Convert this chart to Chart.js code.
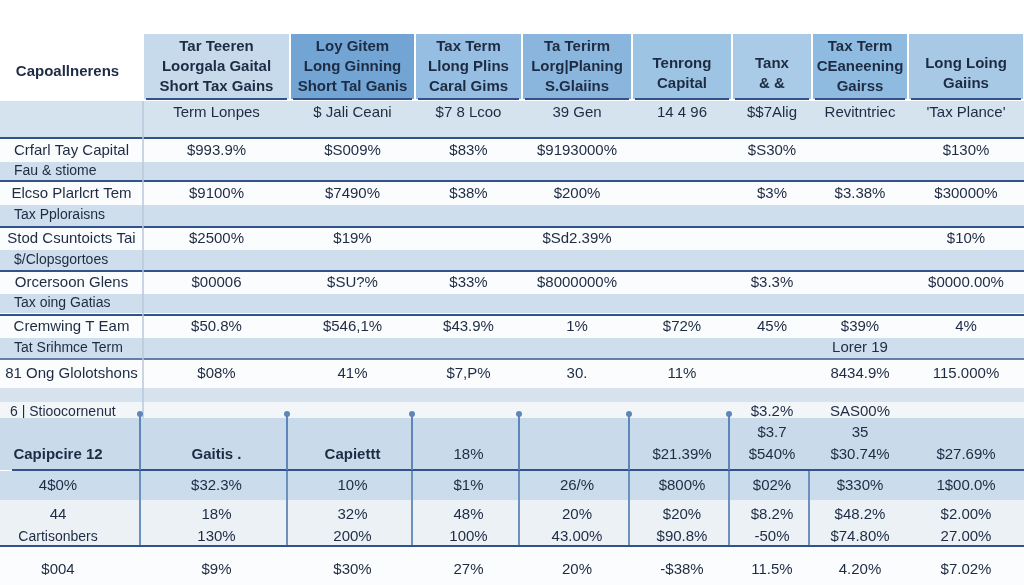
<!DOCTYPE html>
<html>
<head>
<meta charset="utf-8">
<script src="https://cdn.jsdelivr.net/npm/chart.js@4/dist/chart.umd.min.js"></script>
<style>
  html, body { margin: 0; background: #ffffff; }
  canvas { display: block; }
</style>
</head>
<body>
<canvas id="tax-table" width="1024" height="585"></canvas>
<script>
// ---- table data ----
const cornerLabel = 'Capoallnerens';
const headers = [
    ['Tar Teeren', 'Loorgala Gaital', 'Short Tax Gains'],
    ['Loy Gitem', 'Long Ginning', 'Short Tal Ganis'],
    ['Tax Term', 'Llong Plins', 'Caral Gims'],
    ['Ta Terirm', 'Lorg|Planing', 'S.Glaiins'],
    ['Tenrong', 'Capital'],
    ['Tanx', '& &'],
    ['Tax Term', 'CEaneening', 'Gairss'],
    ['Long Loing', 'Gaiins']
];
const subHeader = ['Term Lonpes', '$ Jali Ceani', '$7 8 Lcoo', '39 Gen', '14 4 96', '$$7Alig', 'Revitntriec', '\'Tax Plance\''];

const rowLabels = ['Crfarl Tay Capital', 'Elcso Plarlcrt Tem', 'Stod Csuntoicts Tai', 'Orcersoon Glens', 'Cremwing T Eam', '81 Ong Glolotshons', '6 | Stioocornenut'];
const bandLabels = ['Fau & stiome', 'Tax Pploraisns', '$/Clopsgortoes', 'Tax oing Gatias', 'Tat Srihmce Term', ''];
const rowValues = [
    ['$993.9%', '$S009%', '$83%', '$9193000%', '', '$S30%', '', '$130%'],
    ['$9100%', '$7490%', '$38%', '$200%', '', '$3%', '$3.38%', '$30000%'],
    ['$2500%', '$19%', '', '$Sd2.39%', '', '', '', '$10%'],
    ['$00006', '$SU?%', '$33%', '$8000000%', '', '$3.3%', '', '$0000.00%'],
    ['$50.8%', '$546,1%', '$43.9%', '1%', '$72%', '45%', '$39%', '4%'],
    ['$08%', '41%', '$7,P%', '30.', '11%', '', '8434.9%', '115.000%'],
    ['', '', '', '', '', '$3.2%', 'SAS00%', '']
];
const bandNotes = [['', '', '', '', '', '', '', ''], ['', '', '', '', '', '', '', ''], ['', '', '', '', '', '', '', ''],
    ['', '', '', '', '', '', '', ''], ['', '', '', '', '', '', 'Lorer 19', ''], ['', '', '', '', '', '', '', '']];

const bottomHead = ['Capipcire 12', 'Gaitis .', 'Capiettt', '18%', '', '$21.39%', ['$3.7', '$540%'], ['35', '$30.74%'], '$27.69%'];
const bottomRow1 = ['4$0%', '$32.3%', '10%', '$1%', '26/%', '$800%', '$02%', '$330%', '1$00.0%'];
const bottomRow2 = [['44', 'Cartisonbers'], ['18%', '130%'], ['32%', '200%'], ['48%', '100%'], ['20%', '43.00%'],
    ['$20%', '$90.8%'], ['$8.2%', '-50%'], ['$48.2%', '$74.80%'], ['$2.00%', '27.00%']];
const bottomRow3 = ['$004', '$9%', '$30%', '27%', '20%', '-$38%', '11.5%', '4.20%', '$7.02%'];

// ---- layout (table units) ----
const colEdges = [0, 143, 290, 415, 522, 632, 732, 812, 908, 1024];
const header = { top: 34, bottom: 99 };
const subRow = { top: 101, bottom: 137, line: 138 };
// each data row: white part, then a blue band, then a dark rule
const rowSlots = [
    { top: 139, mid: 162, bottom: 180, line: 181 },
    { top: 182, mid: 205, bottom: 226, line: 227 },
    { top: 228, mid: 250, bottom: 270, line: 271 },
    { top: 272, mid: 294, bottom: 313, line: 315 },
    { top: 316, mid: 338, bottom: 358, line: 359 },
    { top: 360, mid: 388, bottom: 402, line: null },
    { top: 402, mid: 420, bottom: 420, line: null }
];
const bottom = { head: [418, 470], r1: [471, 500], r2: [500, 545], r3: [547, 585] };
const headDividers = [1, 2, 3, 4, 5, 6];      // column edges with a rule in the bottom head row
const lowDividers = [1, 2, 3, 4, 5, 6, 7];    // column edges with a rule in the rows below it

const headerFill = ['#c6daec', '#72a5d4', '#95bee2', '#8ab6de', '#9ec4e4', '#a9cbe7', '#8fbbe0', '#a7c9e6'];
const ink = '#1d2b43';
const rule = '#31538a';
const bandFill = '#cfdeec';

function colCenter(i) { return (colEdges[i] + colEdges[i + 1]) / 2; }

const tablePlugin = {
    id: 'tablePlugin',
    beforeDraw(chart) {
        const ctx = chart.ctx;
        const xs = chart.scales.x, ys = chart.scales.y;
        const px = v => xs.getPixelForValue(v);
        const py = v => ys.getPixelForValue(v);
        const rect = (x0, x1, y0, y1, c) => {
            ctx.fillStyle = c;
            ctx.fillRect(px(x0), py(y0), px(x1) - px(x0), py(y1) - py(y0));
        };
        const hline = (x0, x1, yv, c, w) => {
            ctx.strokeStyle = c; ctx.lineWidth = w;
            ctx.beginPath(); ctx.moveTo(px(x0), py(yv)); ctx.lineTo(px(x1), py(yv)); ctx.stroke();
        };
        const vline = (xv, y0, y1, c, w) => {
            ctx.strokeStyle = c; ctx.lineWidth = w;
            ctx.beginPath(); ctx.moveTo(px(xv), py(y0)); ctx.lineTo(px(xv), py(y1)); ctx.stroke();
        };
        const text = (s, xv, yv, font, align) => {
            if (!s) return;
            ctx.font = font;
            ctx.fillStyle = ink;
            ctx.textAlign = align || 'center';
            ctx.textBaseline = 'middle';
            ctx.fillText(s, px(xv), py(yv));
        };
        const W = colEdges[colEdges.length - 1];
        const valFont = '15px "Liberation Sans", Arial, sans-serif';
        const lblFont = '15px "Liberation Sans", Arial, sans-serif';
        const bandFont = '14px "Liberation Sans", Arial, sans-serif';
        const headFont = 'bold 15px "Liberation Sans", Arial, sans-serif';

        ctx.save();
        rect(0, W, 0, 585, '#ffffff');

        // header cells
        headers.forEach((lines, i) => {
            const x0 = colEdges[i + 1] + 1, x1 = colEdges[i + 2] - 1;
            rect(x0, x1, header.top, header.bottom, headerFill[i]);
            hline(x0 + 2, x1 - 2, header.bottom, rule, 2);
            const mid = lines.length === 3 ? 67 : 74;
            lines.forEach((l, k) => text(l, colCenter(i + 1), mid + (k - (lines.length - 1) / 2) * 20, headFont));
        });
        text(cornerLabel, colCenter(0) - 4, 72, headFont);

        // sub header row
        rect(0, W, subRow.top, subRow.bottom, '#d5e3ef');
        hline(0, W, subRow.line, rule, 2);
        subHeader.forEach((s, i) => text(s, colCenter(i + 1), 113, valFont));

        // data rows
        rowSlots.forEach((slot, r) => {
            rect(0, W, slot.top, slot.mid, r === 6 ? '#f3f6f9' : '#fbfcfd');
            if (slot.bottom > slot.mid) rect(0, W, slot.mid, slot.bottom, r === 5 ? '#d6e3ef' : bandFill);
            if (slot.line) hline(0, W, slot.line, rule, r === 4 ? 1.5 : 2);
            const cy = r === 6 ? 412 : (slot.top + slot.mid) / 2;
            text(rowLabels[r], r === 6 ? 10 : colCenter(0), cy, r === 6 ? bandFont : lblFont, r === 6 ? 'left' : 'center');
            rowValues[r].forEach((s, i) => text(s, colCenter(i + 1), cy, valFont));
            if (r < bandLabels.length) {
                const by = (slot.mid + slot.bottom) / 2;
                text(bandLabels[r], 14, by, bandFont, 'left');
                bandNotes[r].forEach((s, i) => text(s, colCenter(i + 1), by, valFont));
            }
        });
        // left column divider
        vline(colEdges[1], subRow.top, 420, '#b8c9db', 1.5);

        // bottom block
        rect(0, W, bottom.head[0], bottom.head[1], '#c9dbeb');
        rect(0, W, bottom.r1[0], bottom.r1[1], '#cbdcec');
        rect(0, W, bottom.r2[0], bottom.r2[1], '#ecf1f6');
        rect(0, W, bottom.r3[0], bottom.r3[1], '#fbfcfd');
        hline(12, W, bottom.head[1], rule, 2);
        hline(0, W, bottom.r2[1] + 1, rule, 2);
        headDividers.forEach(i => {
            vline(colEdges[i] - 3, bottom.head[0] - 4, bottom.head[1], '#5f86b8', 2);
            ctx.fillStyle = '#5f86b8';
            ctx.beginPath();
            ctx.arc(px(colEdges[i] - 3), py(bottom.head[0] - 4), 3, 0, Math.PI * 2);
            ctx.fill();
        });
        lowDividers.forEach(i => vline(colEdges[i] - 3, bottom.r1[0], bottom.r2[1], '#6e90bd', 2));

        const bc = i => i === 0 ? 58 : colCenter(i);
        bottomHead.forEach((s, i) => {
            const f = i < 3 ? headFont.replace('bold ', '600 ') : valFont;
            if (Array.isArray(s)) s.forEach((l, k) => text(l, bc(i), 455 - (s.length - 1 - k) * 22, f));
            else text(s, bc(i), 455, f);
        });
        bottomRow1.forEach((s, i) => text(s, bc(i), 486, valFont));
        bottomRow2.forEach((s, i) => s.forEach((l, k) => text(l, bc(i), 515 + k * 22, i === 0 && k === 1 ? bandFont : valFont)));
        bottomRow3.forEach((s, i) => text(s, bc(i), 570, valFont));
        ctx.restore();
    }
};

new Chart(document.getElementById('tax-table').getContext('2d'), {
    type: 'scatter',
    data: { datasets: [] },
    options: {
        responsive: false,
        animation: false,
        layout: { padding: 0 },
        scales: {
            x: { type: 'linear', min: 0, max: 1024, display: false },
            y: { type: 'linear', min: 0, max: 585, reverse: true, display: false }
        },
        plugins: { legend: { display: false }, tooltip: { enabled: false } }
    },
    plugins: [tablePlugin]
});
</script>
</body>
</html>
